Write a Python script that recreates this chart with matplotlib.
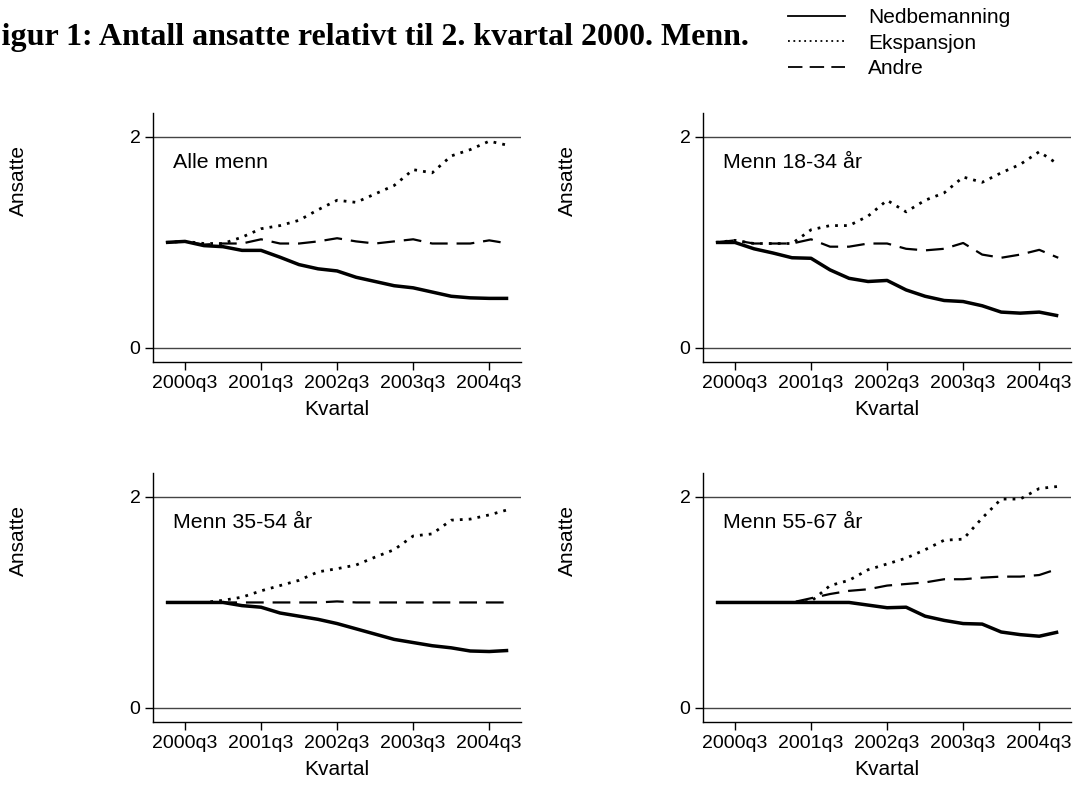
import matplotlib.pyplot as plt
from matplotlib.lines import Line2D

# quarters 2000q2 .. 2004q4
quarters = ["2000q2", "2000q3", "2000q4", "2001q1", "2001q2", "2001q3", "2001q4",
            "2002q1", "2002q2", "2002q3", "2002q4", "2003q1", "2003q2", "2003q3",
            "2003q4", "2004q1", "2004q2", "2004q3", "2004q4"]
tick_labels = ["2000q3", "2001q3", "2002q3", "2003q3", "2004q3"]

panel_titles = ["Alle menn", "Menn 18-34 år", "Menn 35-54 år", "Menn 55-67 år"]

# Nedbemanning
ned_alle = [1.00, 1.01, 0.97, 0.96, 0.925, 0.925, 0.86, 0.79, 0.75, 0.73,
            0.67, 0.63, 0.59, 0.57, 0.53, 0.49, 0.475, 0.47, 0.47]
ned_1834 = [1.00, 1.00, 0.94, 0.90, 0.855, 0.85, 0.74, 0.66, 0.63, 0.64,
            0.55, 0.49, 0.45, 0.44, 0.40, 0.34, 0.33, 0.34, 0.305]
ned_3554 = [1.00, 1.00, 1.00, 1.00, 0.97, 0.955, 0.90, 0.87, 0.84, 0.80,
            0.75, 0.70, 0.65, 0.62, 0.59, 0.57, 0.54, 0.535, 0.545]
ned_5567 = [1.00, 1.00, 1.00, 1.00, 1.00, 1.00, 1.00, 1.00, 0.975, 0.95,
            0.955, 0.87, 0.83, 0.80, 0.795, 0.72, 0.695, 0.68, 0.72]

# Ekspansjon
eks_alle = [1.00, 1.01, 0.99, 0.99, 1.05, 1.13, 1.16, 1.21, 1.31, 1.40,
            1.38, 1.46, 1.54, 1.69, 1.66, 1.82, 1.88, 1.96, 1.92]
eks_1834 = [1.00, 1.02, 0.99, 0.99, 0.99, 1.12, 1.16, 1.16, 1.25, 1.40,
            1.29, 1.40, 1.47, 1.62, 1.57, 1.66, 1.74, 1.86, 1.74]
eks_3554 = [1.00, 1.00, 1.00, 1.02, 1.05, 1.11, 1.16, 1.21, 1.29, 1.32,
            1.355, 1.43, 1.50, 1.63, 1.65, 1.78, 1.79, 1.83, 1.88]
eks_5567 = [1.00, 1.00, 1.00, 1.00, 1.00, 1.01, 1.16, 1.21, 1.31, 1.365,
            1.42, 1.50, 1.59, 1.60, 1.80, 1.98, 1.98, 2.08, 2.10]

# Andre
and_alle = [1.00, 1.01, 0.98, 0.99, 0.99, 1.03, 0.99, 0.99, 1.01, 1.04,
            1.01, 0.99, 1.01, 1.03, 0.99, 0.99, 0.99, 1.02, 0.99]
and_1834 = [1.00, 1.02, 0.99, 0.99, 0.99, 1.03, 0.96, 0.96, 0.99, 0.99,
            0.94, 0.925, 0.94, 0.995, 0.885, 0.855, 0.885, 0.93, 0.855]
and_3554 = [1.00, 1.00, 1.00, 1.00, 1.00, 1.00, 1.00, 1.00, 1.00, 1.01,
            1.00, 1.00, 1.00, 1.00, 1.00, 1.00, 1.00, 1.00, 1.00]
and_5567 = [1.00, 1.00, 1.00, 1.00, 1.00, 1.04, 1.08, 1.11, 1.125, 1.16,
            1.175, 1.19, 1.22, 1.22, 1.235, 1.245, 1.245, 1.26, 1.32]

ned = [ned_alle, ned_1834, ned_3554, ned_5567]
eks = [eks_alle, eks_1834, eks_3554, eks_5567]
andre = [and_alle, and_1834, and_3554, and_5567]

plt.rcParams["font.family"] = ["Liberation Sans", "DejaVu Sans"]

fig = plt.figure(figsize=(10.73, 7.92), dpi=100)

W, H = 1073, 792
# axes boxes in pixels: left, top, right, bottom
boxes = [(153, 113, 521, 362), (703, 113, 1071, 362),
         (153, 473, 521, 722), (703, 473, 1071, 722)]
ylab_x = [18, 567, 18, 567]
ylab_y = [181, 181, 541, 541]

x = list(range(len(quarters)))
tick_pos = [quarters.index(t) for t in tick_labels]

for i, (l, t, r, b) in enumerate(boxes):
    ax = fig.add_axes([l / W, 1 - b / H, (r - l) / W, (b - t) / H])
    for v in (0, 2):
        ax.axhline(v, color="#444444", lw=1.0, zorder=1)
    ax.plot(x, ned[i], color="black", lw=2.5, ls="-", solid_capstyle="butt")
    ax.plot(x, eks[i], color="black", lw=2.0, ls=(0, (1, 2.2)))
    ax.plot(x, andre[i], color="black", lw=1.6, ls=(0, (8, 4)))
    ax.set_xlim(-0.68, 18.67)
    ax.set_ylim(-0.133, 2.227)
    ax.set_yticks([0, 2])
    ax.set_yticklabels(["0", "2"])
    ax.set_xticks(tick_pos)
    ax.set_xticklabels(tick_labels)
    ax.tick_params(axis="both", labelsize=14, length=6, width=1, color="black", pad=3)
    for s in ("top", "right"):
        ax.spines[s].set_visible(False)
    for s in ("left", "bottom"):
        ax.spines[s].set_linewidth(1.0)
    ax.set_xlabel("Kvartal", fontsize=15, labelpad=6)
    ax.text(0.055, 0.80, panel_titles[i], transform=ax.transAxes, fontsize=15.4,
            va="center", ha="left")
    fig.text(ylab_x[i] / W, 1 - ylab_y[i] / H, "Ansatte", rotation=90,
             fontsize=15, ha="center", va="center")

fig.text(-18 / W, 1 - 38 / H, "Figur 1: Antall ansatte relativt til 2. kvartal 2000. Menn.",
         fontsize=23, fontweight="bold", family=["Liberation Serif", "DejaVu Serif"],
         ha="left", va="center")

handles = [Line2D([], [], color="black", lw=1.3, ls="-"),
           Line2D([], [], color="black", lw=1.3, ls=(0, (1, 2))),
           Line2D([], [], color="black", lw=1.3, ls=(0, (8, 4)))]
fig.legend(handles, ["Nedbemanning", "Ekspansjon", "Andre"],
           loc="upper left", bbox_to_anchor=(788 / W, 1 - 8 / H), frameon=False,
           fontsize=15, handlelength=2.75, handletextpad=1.1, labelspacing=0.32,
           borderaxespad=0, borderpad=0)

fig.savefig("out.png", dpi=100)
